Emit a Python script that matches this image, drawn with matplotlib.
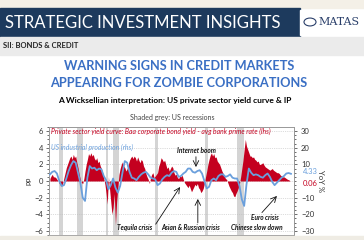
import numpy as np
import matplotlib.pyplot as plt
from matplotlib.patches import Rectangle, Circle

plt.rcParams['font.family'] = ['Lato', 'DejaVu Sans']

# private sector yield curve (pp), quarterly from 1968
spread = [0.3, 0.6, 0.8, 0.5,
          0.5, 0.4, 0.2, 0.0,
          -0.3, -0.5, -0.6, -0.2,
          0.4, 1.0, 1.6, 2.0,
          2.4, 2.8, 3.0, 2.6,
          3.2, 2.8, 3.0, 2.2,
          1.6, 0.8, 0.2, -0.2,
          -0.3, 0.3, 1.2, 2.0,
          2.6, 3.3, 3.0, 3.4,
          3.0, 3.2, 2.7, 2.5,
          2.8, 2.2, 2.4, 1.8,
          1.5, 1.0, 0.3, -0.4,
          -1.5, -2.8, 0.5, -1.0,
          -2.5, -4.0, -3.2, -1.5,
          -5.3, -2.5, -0.8, 0.8,
          1.5, 2.0, 2.3, 1.8,
          1.6, 1.2, 1.5, 2.0,
          2.5, 2.8, 3.0, 2.7,
          3.0, 2.8, 2.4, 2.9,
          2.5, 2.2, 2.6, 2.4,
          1.8, 1.5, 0.9, 0.5,
          0.2, -0.3, 0.4, 0.8,
          1.0, 0.4, 0.6, 0.8,
          1.0, 1.8, 2.2, 2.8,
          2.6, 2.3, 2.5, 2.0,
          1.5, 1.7, 1.2, 1.5,
          1.8, 1.6, 1.0, 0.7,
          0.8, 0.4, 0.3, 0.6,
          0.5, 0.7, 0.2, -0.2,
          -0.4, -0.6, -0.8, -0.5,
          -0.9, -1.3, -1.0, -0.7,
          -0.4, -0.6, -0.3, -0.8,
          -1.0, -1.4, -1.2, -0.9,
          -0.3, 0.5, 1.2, 2.0,
          2.6, 3.1, 3.4, 3.0,
          3.3, 2.8, 2.9, 2.4,
          2.2, 2.0, 1.6, 1.2,
          0.9, 0.6, 0.3, 0.2,
          -0.2, -0.6, -0.9, -1.2,
          -1.4, -1.8, -1.9, -1.5,
          -1.2, -0.8, -0.3, 0.5,
          1.5, 2.5, 3.8, 5.0,
          4.2, 3.8, 3.4, 3.0,
          3.0, 2.8, 2.9, 2.6,
          2.5, 2.3, 2.4, 2.0,
          2.0, 2.1, 2.2, 1.9,
          1.7, 1.6, 1.5, 1.4,
          1.3, 1.4, 1.5, 1.3,
          1.2, 1.1, 1.0, 1.0,
          0.9, 0.7, 0.6, 0.5,
          0.5, 0.4, 0.3, 0.2,
          0.15, 0.06]
t_spread = 1968 + np.arange(len(spread)) / 4

# US industrial production YoY %, half-yearly from 1968
ip = [4.0, 5.5, 6.0, 4.5, 0.0, -3.0, -2.5, 1.5, 6.0, 9.5,
      12.0, 11.0, 5.0, -1.0, -10.0, -12.0, 2.0, 9.0, 7.5, 8.0,
      6.5, 7.5, 7.0, 3.0, 0.5, -5.0, -2.5, 1.5, -4.0, -7.0,
      -3.0, 5.0, 12.0, 11.0, 5.5, 2.0, 1.5, 0.5, 2.5, 4.0,
      5.0, 5.5, 4.0, 2.0, 1.5, 1.0, -2.5, -1.5, 1.0, 2.5,
      3.5, 3.0, 5.0, 6.0, 5.5, 2.5, 3.0, 4.5, 5.5, 7.5,
      7.5, 5.5, 5.0, 6.0, 6.5, 4.5, 0.0, -4.5, -3.5, 0.5,
      1.5, 0.5, 3.0, 4.0, 4.0, 2.5, 3.0, 4.0, 2.0, 1.5,
      1.5, -3.0, -11.0, -15.0, -2.0, 7.5, 5.0, 3.5, 4.0, 3.5,
      2.5, 2.0, 3.5, 4.5, 2.5, -0.5, -2.5, -1.0, 0.5, 2.0,
      3.0, 4.5, 4.8, 4.33]
t_ip = 1968 + np.arange(len(ip)) / 2

recessions = [(1969.92, 1970.83), (1973.83, 1975.17), (1980.0, 1980.5),
              (1981.5, 1982.83), (1990.5, 1991.17), (2001.17, 2001.83),
              (2007.92, 2009.5)]

W, H = 364, 240
fig = plt.figure(figsize=(W / 100, H / 100), dpi=100)
fig.patch.set_facecolor('white')


def fx(x):
    return x / W


def fy(y):
    return 1 - y / H


def band(x0, y0, x1, y1, color):
    fig.patches.append(Rectangle((fx(x0), fy(y1)), fx(x1 - x0), (y1 - y0) / H,
                                 transform=fig.transFigure, color=color, zorder=0))


# header
band(0, 0, W, 8, '#f4f0e7')
band(0, 8, 300, 37, '#1d3a5d')
band(0, 37, W, 55, '#ebebeb')
band(0, 236, W, H, '#efece4')
band(300, 10, W, 35, 'white')
fig.text(fx(5), fy(23), 'STRATEGIC INVESTMENT INSIGHTS', color='white',
         fontsize=12, va='center', ha='left')
fig.text(fx(3), fy(46), 'SII: BONDS & CREDIT', color='#222222',
         fontsize=5.5, fontweight='bold', va='center')
fig.patches.append(Circle((fx(310), fy(22)), 6 / W, transform=fig.transFigure,
                          fill=False, ec='#2a3f6a', lw=0.8, zorder=2))
fig.text(fx(318), fy(22), 'MATAS', color='#2a3f6a', fontsize=8,
         family='DejaVu Serif', va='center')

# titles
fig.text(fx(179), fy(66), 'WARNING SIGNS IN CREDIT MARKETS', color='#3a6fc4',
         fontsize=9.2, fontweight='bold', ha='center', va='center')
fig.text(fx(179), fy(83), 'APPEARING FOR ZOMBIE CORPORATIONS', color='#3a6fc4',
         fontsize=9.2, fontweight='bold', ha='center', va='center')
fig.text(fx(175), fy(101), 'A Wicksellian interpretation: US private sector yield curve & IP',
         color='black', fontsize=6.0, fontweight='bold', ha='center', va='center')
fig.text(fx(172), fy(117), 'Shaded grey: US recessions', color='#444444',
         fontsize=5, ha='center', va='center')

# chart
ax = fig.add_axes([fx(49), fy(235), (294 - 49) / W, (235 - 127) / H])
for a, b in recessions:
    ax.axvspan(a, b, color='#d4d4d4', lw=0, zorder=0)
ax.fill_between(t_spread, spread, 0, color='#c4001f', lw=0, zorder=2)
ax.set_xlim(1967.8, 2020.15)
ax.set_ylim(-6.5, 6.5)
ax.set_yticks(np.arange(-6, 7, 2))
ax.set_yticks(np.arange(-6.5, 6.6, 0.5), minor=True)
ax.grid(axis='y', ls=':', color='#bbbbbb', lw=0.5)
ax.set_xticks([])
ax.tick_params(axis='y', labelsize=5.5, length=2.5, width=0.5, colors='#333333', pad=1.5)
ax.tick_params(axis='y', which='minor', length=1.5, width=0.4)
ax.set_ylabel('pp', fontsize=5.5, labelpad=2, color='#333333')
for s in ax.spines.values():
    s.set_color('#999999')
    s.set_linewidth(0.6)

ax2 = ax.twinx()
ax2.plot(t_ip, ip, color='#6a9fdc', lw=1.3, zorder=3)
ax2.set_ylim(-32.5, 32.5)
ax2.set_yticks([-30, -20, -10, 10, 20, 30])
ax2.set_yticks(np.arange(-30, 31, 2.5), minor=True)
ax2.tick_params(axis='y', labelsize=5.5, length=2.5, width=0.5, colors='#333333', pad=2.5)
ax2.tick_params(axis='y', which='minor', length=1.5, width=0.4)
ax2.set_ylabel('YoY %', fontsize=5.5, rotation=270, labelpad=7, color='#333333')
for s in ax2.spines.values():
    s.set_color('#999999')
    s.set_linewidth(0.6)
ax2.text(1.035, 0.585, '4.33', transform=ax2.transAxes, color='#6a9fdc',
         fontsize=5.5, va='center')
ax2.text(1.035, 0.48, '0.06', transform=ax2.transAxes, color='#c4001f',
         fontsize=5.5, va='center')

ax.text(0.01, 0.955, 'Private sector yield curve: Baa corporate bond yield - avg bank prime rate (lhs)',
        transform=ax.transAxes, color='#c4001f', fontsize=4.9, style='italic', va='center')
ax.text(0.01, 0.81, 'US industrial production (rhs)', transform=ax.transAxes,
        color='#6a9fdc', fontsize=4.9, style='italic', va='center')

txt = dict(fontsize=4.7, style='italic', fontweight='bold', color='#111111', ha='center', va='center')
arr = dict(arrowstyle='->', color='#111111', lw=0.6, shrinkA=0, shrinkB=0)
ax2.text(1999.2, 18.6, 'Internet boom', **txt)
ax2.annotate('', xy=(1999.2, 8.4), xytext=(1999.2, 14.6), arrowprops=arr)
ax2.text(1986.2, -28.2, 'Tequila crisis', **txt)
ax2.annotate('', xy=(1995.8, -3.6), xytext=(1990.6, -26.0), arrowprops=arr)
ax2.text(1998.0, -28.2, 'Asian & Russian crisis', **txt)
ax2.annotate('', xy=(1999.6, -10.8), xytext=(1999.6, -25.2), arrowprops=arr)
ax2.text(2013.9, -22.2, 'Euro crisis', **txt)
ax2.text(2012.2, -28.2, 'Chinese slow down', **txt)
ax2.annotate('', xy=(2016.5, -9.0), xytext=(2013.3, -19.0), arrowprops=arr)

fig.savefig('out.png', dpi=100)
